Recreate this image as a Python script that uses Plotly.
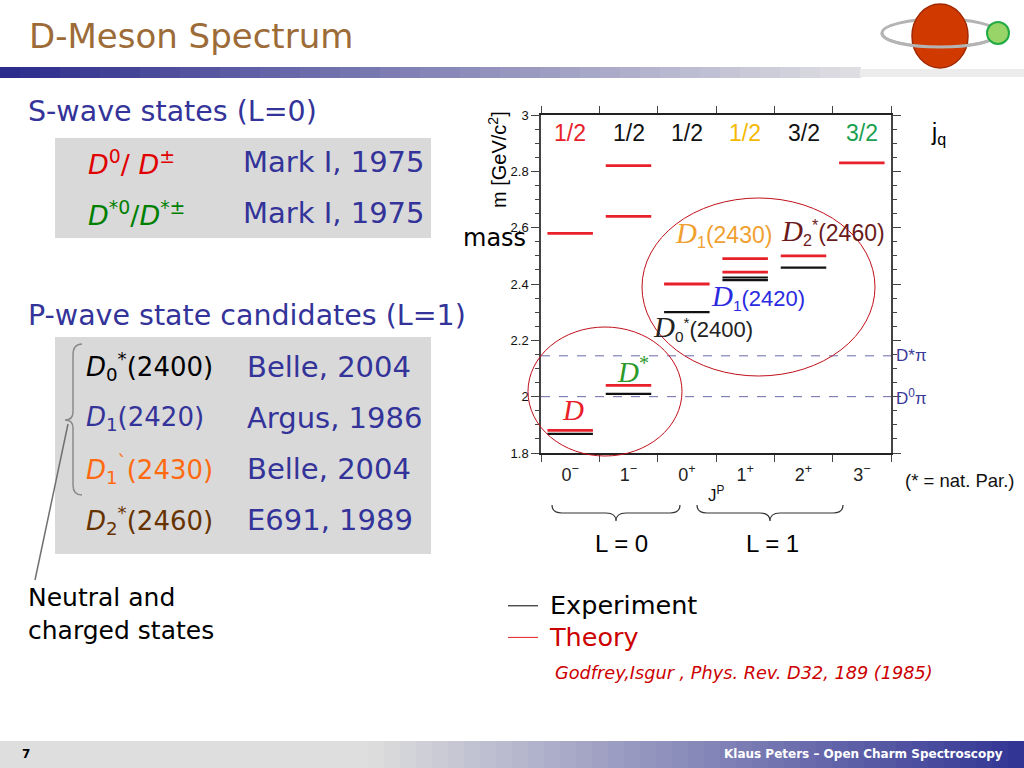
import plotly.graph_objects as go

W, H = 1024, 768

# ---------------- data ----------------
jp_labels = ["0<sup>−</sup>", "1<sup>−</sup>", "0<sup>+</sup>", "1<sup>+</sup>", "2<sup>+</sup>", "3<sup>−</sup>"]
jq_labels = ["1/2", "1/2", "1/2", "1/2", "3/2", "3/2"]
jq_colors = ["#e8202a", "#111111", "#111111", "#f5b800", "#111111", "#1aa050"]
theory_jp = [0, 0, 1, 1, 1, 2, 3, 3, 4, 5]
theory_mass = [1.880, 2.580, 2.040, 2.640, 2.820, 2.400, 2.442, 2.490, 2.500, 2.830]
exp_jp = [0, 1, 2, 3, 3, 4]
exp_mass = [1.868, 2.010, 2.300, 2.414, 2.423, 2.458]
threshold_labels = ["D*π", "D<sup>0</sup>π"]
threshold_mass = [2.145, 2.000]

s_wave_states = ["<i>D</i><sup>0</sup>/ <i>D</i><sup>±</sup>", "<i>D</i><sup>*0</sup>/<i>D</i><sup>*±</sup>"]
s_wave_colors = ["#e00000", "#008000"]
s_wave_refs = ["Mark I, 1975", "Mark I, 1975"]
p_wave_states = ["<i>D</i><sub>0</sub><sup>*</sup>(2400)", "<i>D</i><sub>1</sub>(2420)",
                 "<i>D</i><sub>1</sub><sup>`</sup>(2430)", "<i>D</i><sub>2</sub><sup>*</sup>(2460)"]
p_wave_colors = ["#000000", "#333399", "#ff6a10", "#663300"]
p_wave_refs = ["Belle, 2004", "Argus, 1986", "Belle, 2004", "E691, 1989"]


def px(x):
    return x / W


def py(y):
    return 1 - y / H


def level_segments(jp, mass, half=0.39):
    xs, ys = [], []
    for j, m in zip(jp, mass):
        xs += [j - half, j + half, None]
        ys += [m, m, None]
    return xs, ys


fig = go.Figure()

for m in threshold_mass:
    fig.add_trace(go.Scatter(x=[-0.5, 5.5], y=[m, m], mode="lines",
                             line=dict(color="#6a6aaa", width=1, dash="dash"),
                             showlegend=False, hoverinfo="skip"))

tx, ty = level_segments(theory_jp, theory_mass)
fig.add_trace(go.Scatter(x=tx, y=ty, mode="lines", line=dict(color="#e8202a", width=2.8),
                         showlegend=False, hoverinfo="skip"))
ex, ey = level_segments(exp_jp, exp_mass)
fig.add_trace(go.Scatter(x=ex, y=ey, mode="lines", line=dict(color="#111111", width=2.2),
                         showlegend=False, hoverinfo="skip"))

fig.add_trace(go.Scatter(x=[None], y=[None], mode="lines",
                         name="\u00a0<span style='font-size:25.5px'>Experiment</span>",
                         line=dict(color="#000000", width=1)))
fig.add_trace(go.Scatter(x=[None], y=[None], mode="lines",
                         name="\u00a0<span style='color:#cc0000;font-size:25.5px'>Theory</span>",
                         line=dict(color="#e02020", width=1)))

ann = []


def A(text, x, y, size, color="#000", family="DejaVu Sans", xanchor="left", yanchor="middle",
      xref="paper", yref="paper", **kw):
    ann.append(dict(text=text, x=x, y=y, xref=xref, yref=yref, showarrow=False,
                    xanchor=xanchor, yanchor=yanchor,
                    font=dict(size=size, color=color, family=family), **kw))


A("D-Meson Spectrum", px(27), py(36), 34, "#9c6b38")
A("<b>7</b>", px(20), py(754), 12, "#000")
A("<b>Klaus Peters – Open Charm Spectroscopy</b>", px(1005), py(754), 12, "#ffffff", xanchor="right")

A("S-wave states (L=0)", px(26), py(111), 28.5, "#333399")
for i, (s, c, r) in enumerate(zip(s_wave_states, s_wave_colors, s_wave_refs)):
    yy = 162 + 51 * i
    A(s, px(86), py(yy), 27, c)
    A(r, px(241), py(yy), 29, "#333399")

A("P-wave state candidates (L=1)", px(26), py(316), 28.5, "#333399")
for i, (s, c, r) in enumerate(zip(p_wave_states, p_wave_colors, p_wave_refs)):
    yy = 367 + 51 * i
    A(s, px(84), py(yy), 26, c)
    A(r, px(245), py(yy), 29, "#333399")

A("Neutral and<br>charged states", px(26), py(614), 25, "#000", align="left")

for i, (t, c) in enumerate(zip(jq_labels, jq_colors)):
    A(t, i, 2.935, 23, c, family="Liberation Sans", xanchor="center", xref="x", yref="y")
A("j<sub>q</sub>", px(929), py(133), 23, "#000", family="Liberation Sans")
for t, m in zip(threshold_labels, threshold_mass):
    A(t, 5.5, m, 17, "#3a3a99", family="Liberation Sans", xref="x", yref="y", xshift=3)

A("m [GeV/c<sup>2</sup>]", px(497), py(160), 20, "#000", family="Liberation Sans",
  xanchor="center", textangle=-90)
A("mass", px(461), py(238), 24, "#000")
A("J<sup>P</sup>", px(706), py(494), 17, "#111", family="Liberation Sans")
A("(* = nat. Par.)", px(903), py(480), 18.5, "#111", family="Liberation Sans")
A("L = 0", px(621), py(543), 24, "#000", family="Liberation Sans", xanchor="center")
A("L = 1", px(772), py(543), 24, "#000", family="Liberation Sans", xanchor="center")
A("<i>Godfrey,Isgur , Phys. Rev. D32, 189 (1985)</i>", px(553), py(673), 17.7, "#cc0000")

SER = "<span style='font-family:Liberation Serif;font-size:29px'><i>D</i></span>"
A("<i>D</i>", 0.05, 1.953, 29, "#e8202a", family="Liberation Serif", xanchor="center", xref="x", yref="y")
A("<i>D</i><sup>*</sup>", 1.08, 2.095, 29, "#2a9a2a", family="Liberation Serif", xanchor="center",
  xref="x", yref="y")
A(SER + "<sub>1</sub>(2430)", 2.62, 2.578, 23, "#f0a030", family="Liberation Sans",
  xanchor="center", xref="x", yref="y")
A(SER + "<sub>2</sub><sup>*</sup>(2460)", 4.5, 2.583, 23, "#6a1a1a", family="Liberation Sans",
  xanchor="center", xref="x", yref="y")
A(SER + "<sub>1</sub>(2420)", 3.22, 2.354, 22, "#2a2ae0", family="Liberation Sans",
  xanchor="center", xref="x", yref="y")
A(SER + "<sub>0</sub><sup>*</sup>(2400)", 2.28, 2.243, 22, "#222222", family="Liberation Sans",
  xanchor="center", xref="x", yref="y")

shapes = []


def rect(x0, y0, x1, y1, fill, layer="below"):
    shapes.append(dict(type="rect", xref="paper", yref="paper", x0=px(x0), x1=px(x1),
                       y0=py(y1), y1=py(y0), fillcolor=fill, line=dict(width=0), layer=layer))


def lerp(c0, c1, t):
    return "#%02x%02x%02x" % tuple(round(a + (b - a) * t) for a, b in zip(c0, c1))


def path(cmds, color, width=1.2, fill=None):
    parts = []
    for c in cmds:
        op, pts = c[0], c[1:]
        parts.append(op + " " + " ".join("%.5f,%.5f" % (px(x), py(y)) for x, y in pts))
    d = dict(type="path", xref="paper", yref="paper", path=" ".join(parts),
             line=dict(color=color, width=width))
    if fill:
        d["fillcolor"] = fill
    shapes.append(d)


def ellipse(x0, y0, x1, y1, color, width=1.0, fill=None, layer="above"):
    d = dict(type="circle", xref="paper", yref="paper", x0=px(x0), x1=px(x1), y0=py(y1), y1=py(y0),
             line=dict(color=color, width=width), layer=layer)
    if fill:
        d["fillcolor"] = fill
    shapes.append(d)


n = 43
for i in range(n):
    rect(i * 20, 67, i * 20 + 21, 78, lerp((44, 44, 140), (222, 222, 226), i / (n - 1)))
rect(860, 69, 1024, 77, "#ececec")

for i in range(64):
    x0 = i * 16
    t = max(0.0, (x0 - 360) / (1024 - 360))
    rect(x0, 741, x0 + 17, 768, lerp((222, 222, 222), (46, 49, 146), t))

rect(55, 138, 431, 238, "#d9d9d9")
rect(55, 337, 431, 554, "#d9d9d9")

ellipse(882, 19, 998, 47, "#b4b4b4", width=3)
ellipse(912, 4, 968, 68, "#a02800", width=1.5, fill="#d03a00")
path([("M", (882, 33)), ("C", (882, 51.5), (998, 51.5), (998, 33))], "#b4b4b4", width=3)
ellipse(987, 22, 1009, 44, "#22aa44", width=2, fill="#98d468")

path([("M", (82, 344)), ("Q", (73, 344), (73, 355)), ("L", (73, 412)), ("Q", (73, 420), (65, 420)),
      ("Q", (73, 420), (73, 428)), ("L", (73, 485)), ("Q", (73, 495), (82, 495))], "#8a8a8a", 1.5)
path([("M", (68, 424)), ("L", (35, 580))], "#707070", 1.5)

for xa, xb in [(552, 680), (697, 843)]:
    xm = (xa + xb) / 2
    path([("M", (xa, 505)), ("Q", (xa, 513), (xa + 10, 513)), ("L", (xm - 10, 513)),
          ("Q", (xm, 513), (xm, 521)), ("Q", (xm, 513), (xm + 10, 513)), ("L", (xb - 10, 513)),
          ("Q", (xb, 513), (xb, 505))], "#333333", 1.2)

ellipse(528, 327, 682, 456, "#c0101a", width=1)
ellipse(642, 198, 875, 376, "#c0101a", width=1)

# initial size fits inside the default 8px body margin; script enlarges to full window
fig.update_layout(
    width=W - 16, height=H - 16, autosize=False,
    margin=dict(l=0, r=0, t=0, b=0, pad=0, autoexpand=False),
    paper_bgcolor="white", plot_bgcolor="white",
    annotations=ann, shapes=shapes,
    xaxis=dict(domain=[px(541), px(891)], range=[-0.5, 5.5], tickmode="array",
               tickvals=list(range(6)), ticktext=jp_labels, ticks="", automargin=False,
               showline=True, linecolor="#222", linewidth=2, mirror="ticks",
               showgrid=False, zeroline=False, ticklabelstandoff=4,
               tickfont=dict(family="Liberation Sans", size=18, color="#222"),
               minor=dict(tickmode="array", tickvals=[i - 0.5 for i in range(7)], ticks="outside",
                          ticklen=7, tickcolor="#444", tickwidth=1.2, showgrid=False),
               fixedrange=True),
    yaxis=dict(domain=[py(453), py(115)], range=[1.8, 3.0], tickmode="linear", tick0=1.8, dtick=0.2,
               ticks="outside", ticklen=8, tickcolor="#444", tickwidth=1.2, automargin=False,
               showline=True, linecolor="#444", linewidth=1.5, mirror="ticks",
               showgrid=False, zeroline=False,
               minor=dict(tickmode="linear", tick0=1.8, dtick=0.05, ticks="outside", ticklen=4,
                          tickcolor="#444", showgrid=False),
               tickfont=dict(family="Liberation Sans", size=13, color="#111"),
               fixedrange=True),
    legend=dict(x=px(503), y=py(585), xanchor="left", yanchor="top",
                font=dict(size=22, family="DejaVu Sans", color="#000"),
                bgcolor="rgba(0,0,0,0)", itemwidth=30, tracegroupgap=0),
    showlegend=True,
)

post = """
var gd = document.getElementById('{plot_id}');
document.documentElement.style.margin = '0';
document.body.style.margin = '0';
document.body.style.padding = '0';
document.body.style.overflow = 'hidden';
Plotly.relayout(gd, {width: 1024, height: 768});
"""

fig.write_html("out.html", config={"displayModeBar": False}, post_script=post)
